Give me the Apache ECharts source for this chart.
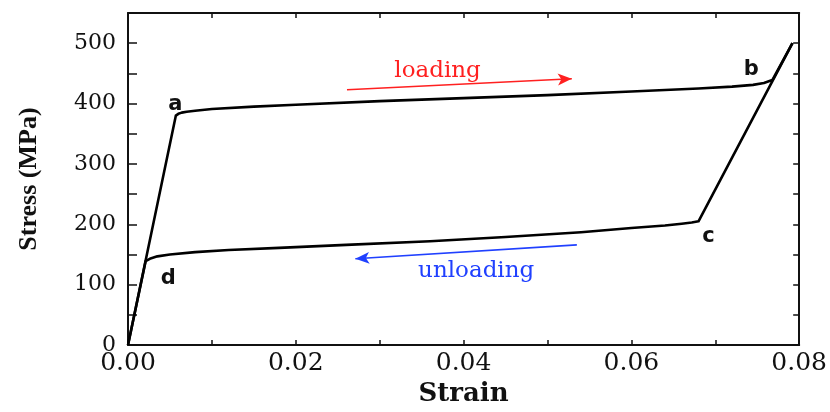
<!DOCTYPE html>
<html>
<head>
<meta charset="utf-8">
<script src="https://cdn.jsdelivr.net/npm/echarts@6/dist/echarts.min.js"></script>
<style>
  html, body { margin: 0; padding: 0; background: #fff; }
  #main { width: 830px; height: 412px; }
</style>
</head>
<body>
<div id="main"></div>
<script>
// loading branch: o -> a -> b -> top
var strainLoad = [0, 0.0057, 0.0060, 0.0064, 0.0070, 0.0080, 0.0100, 0.0150, 0.0200, 0.0300, 0.0400, 0.0500, 0.0600, 0.0680, 0.0720, 0.0745, 0.0758, 0.0768, 0.0792];
var stressLoad = [0, 380, 383, 385, 386.5, 388, 391, 395, 398, 404, 409, 414, 420, 425, 428, 431, 434, 439, 500];
// unloading branch: top -> c -> d -> o
var strainUnload = [0.0792, 0.0680, 0.0672, 0.0660, 0.0640, 0.0600, 0.0540, 0.0450, 0.0360, 0.0260, 0.0180, 0.0120, 0.0080, 0.0050, 0.0035, 0.0026, 0.0021, 0];
var stressUnload = [500, 205, 203, 201, 198, 194, 187, 179, 172, 166, 161, 157.5, 154, 150, 147, 143, 139, 0];

// point labels a, b, c, d
var noteText = ['a', 'b', 'c', 'd'];
var noteStrain = [0.00565, 0.0743, 0.0692, 0.0048];
var noteStress = [399, 456, 180, 111];

// direction arrows [x1, y1, x2, y2]
var loadArrow = [0.0261, 423, 0.0529, 441];
var unloadArrow = [0.0535, 166, 0.0271, 143];

function pairs(xs, ys) {
  var out = [];
  for (var i = 0; i < xs.length; i++) out.push([xs[i], ys[i]]);
  return out;
}

var myChart = echarts.init(document.getElementById('main'));

var axisLine = { show: true, onZero: false, lineStyle: { color: '#111', width: 2 } };

var option = {
  animation: false,
  grid: { left: 128, right: 30, top: 13, bottom: 59 },
  xAxis: [
    {
      type: 'value', min: 0, max: 0.08, interval: 0.01,
      name: 'Strain', nameLocation: 'middle', nameGap: 33,
      nameTextStyle: { fontFamily: 'DejaVu Serif', fontWeight: 'bold', fontSize: 26, color: '#111' },
      axisLine: axisLine,
      axisTick: { inside: true, length: 5, lineStyle: { color: '#111', width: 1.5 } },
      axisLabel: {
        margin: 6, color: '#111', fontFamily: 'DejaVu Serif', fontSize: 25,
        formatter: function (v) {
          var k = Math.round(v * 100);
          return k % 2 === 0 ? (k / 100).toFixed(2) : '';
        }
      },
      splitLine: { show: false }
    },
    {
      type: 'value', position: 'top', min: 0, max: 0.08, interval: 0.01,
      axisLine: axisLine,
      axisTick: { inside: true, length: 5, lineStyle: { color: '#111', width: 1.5 } },
      axisLabel: { show: false },
      splitLine: { show: false }
    }
  ],
  yAxis: [
    {
      type: 'value', min: 0, max: 550, interval: 50,
      name: 'Stress (MPa)', nameLocation: 'middle', nameGap: 86, nameRotate: 90,
      nameTextStyle: { fontFamily: 'Liberation Serif', fontWeight: 'bold', fontSize: 26, color: '#111' },
      axisLine: axisLine,
      axisTick: { inside: true, length: 9, lineStyle: { color: '#111', width: 1.5 } },
      axisLabel: {
        margin: 12, color: '#111', fontFamily: 'DejaVu Serif', fontSize: 22,
        formatter: function (v) { return v % 100 === 0 ? String(v) : ''; }
      },
      splitLine: { show: false }
    },
    {
      type: 'value', position: 'right', min: 0, max: 550, interval: 50,
      axisLine: axisLine,
      axisTick: { inside: true, length: 6, lineStyle: { color: '#111', width: 1.5 } },
      axisLabel: { show: false },
      splitLine: { show: false }
    }
  ],
  series: [
    {
      name: 'loading', type: 'line', showSymbol: false, symbol: 'none',
      lineStyle: { color: '#000', width: 2.6, join: 'round' },
      data: pairs(strainLoad, stressLoad),
      markLine: {
        silent: true, symbol: ['none', 'arrow'], symbolSize: [9, 14],
        label: { show: false },
        lineStyle: { color: '#ff2020', width: 1.6, type: 'solid' },
        data: [[{ coord: [loadArrow[0], loadArrow[1]] }, { coord: [loadArrow[2], loadArrow[3]] }]]
      }
    },
    {
      name: 'unloading', type: 'line', showSymbol: false, symbol: 'none',
      lineStyle: { color: '#000', width: 2.6, join: 'round' },
      data: pairs(strainUnload, stressUnload),
      markLine: {
        silent: true, symbol: ['none', 'arrow'], symbolSize: [9, 14],
        label: { show: false },
        lineStyle: { color: '#2040ff', width: 1.6, type: 'solid' },
        data: [[{ coord: [unloadArrow[0], unloadArrow[1]] }, { coord: [unloadArrow[2], unloadArrow[3]] }]]
      }
    }
  ]
};

myChart.setOption(option);

// text notes placed in data coordinates
var graphics = [];
for (var i = 0; i < noteText.length; i++) {
  var p = myChart.convertToPixel({ gridIndex: 0 }, [noteStrain[i], noteStress[i]]);
  graphics.push({
    type: 'text', x: p[0], y: p[1],
    style: { text: noteText[i], fill: '#111', font: 'bold 21px "DejaVu Sans"', textAlign: 'center', textVerticalAlign: 'middle' }
  });
}
var pl = myChart.convertToPixel({ gridIndex: 0 }, [0.0369, 454]);
graphics.push({
  type: 'text', x: pl[0], y: pl[1],
  style: { text: 'loading', fill: '#ff2020', font: '23px "DejaVu Serif"', textAlign: 'center', textVerticalAlign: 'middle' }
});
var pu = myChart.convertToPixel({ gridIndex: 0 }, [0.0415, 123]);
graphics.push({
  type: 'text', x: pu[0], y: pu[1],
  style: { text: 'unloading', fill: '#2040ff', font: '23px "DejaVu Serif"', textAlign: 'center', textVerticalAlign: 'middle' }
});
myChart.setOption({ graphic: graphics });
</script>
</body>
</html>
